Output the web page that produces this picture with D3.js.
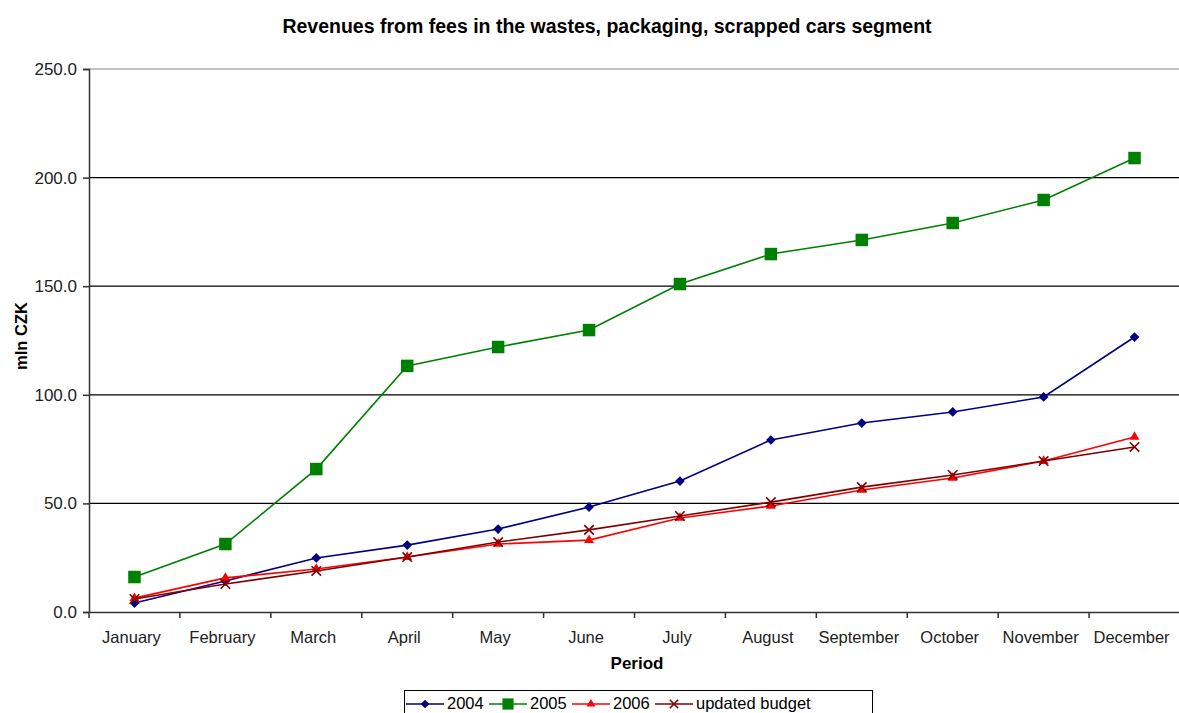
<!DOCTYPE html>
<html><head><meta charset="utf-8">
<script src="https://cdn.jsdelivr.net/npm/d3@7"></script>
<style>body{margin:0;background:#fff;} svg{display:block;font-family:"Liberation Sans",Arial,sans-serif;}</style>
</head><body><svg id="c" width="1179" height="713"></svg>
<script>
const months = ["January","February","March","April","May","June","July","August","September","October","November","December"];
const s2004 = [4.1,14.3,24.9,30.8,38.2,48.3,60.3,79.2,87.0,92.1,99.0,126.6];
const s2005 = [16.1,31.3,65.8,113.3,122.0,129.8,151.0,164.8,171.3,179.1,189.7,209.0];
const s2006 = [6.4,15.7,19.8,25.3,31.3,33.1,43.3,48.8,56.2,61.7,69.5,80.6];
const sBudget = [6.0,12.9,18.9,25.3,32.2,37.8,44.2,50.6,57.5,63.1,69.5,76.0];
const yTicks = [0,50,100,150,200,250];
const seriesNames = ["2004","2005","2006","updated budget"];

const svg = d3.select("#c");
const L = 89, R = 1180, T = 69, B = 612;
const x = d3.scaleBand().domain(months).range([L,R]).padding(0);
const y = d3.scaleLinear().domain([0,250]).range([B,T]);

// gridlines
svg.append("g").selectAll("line").data(yTicks.filter(d=>d>0)).join("line")
  .attr("x1",L).attr("x2",R).attr("y1",d=>y(d)).attr("y2",d=>y(d))
  .attr("stroke",d=>d===250?"#888":"#000").attr("stroke-width",1.2);

// y axis
const ya = svg.append("g").attr("transform",`translate(${L},0)`)
  .call(d3.axisLeft(y).tickValues(yTicks).tickFormat(d3.format(".1f")).tickSize(6).tickPadding(6));
ya.select(".domain").attr("stroke","#333").attr("stroke-width",1.5);
ya.selectAll(".tick line").attr("stroke","#333").attr("stroke-width",1.5);
ya.selectAll("text").attr("font-size",17).attr("fill","#222").attr("font-family","Liberation Sans, Arial, sans-serif");

// x axis
const xa = svg.append("g").attr("transform",`translate(0,${B})`)
  .call(d3.axisBottom(x).tickSize(0).tickPadding(19));
xa.select(".domain").attr("stroke","#333").attr("stroke-width",1.5);
xa.selectAll("text").attr("font-size",16.5).attr("fill","#222").attr("font-family","Liberation Sans, Arial, sans-serif").attr("dx",-3);
// band boundary ticks
svg.append("g").selectAll("line").data(months).join("line")
  .attr("x1",d=>x(d)).attr("x2",d=>x(d)).attr("y1",B).attr("y2",B+6)
  .attr("stroke","#333").attr("stroke-width",1.5);

const cx = d=>x(d)+x.bandwidth()/2;
const series = [
  {name:seriesNames[0], data:s2004, color:"#000080", marker:"diamond"},
  {name:seriesNames[1], data:s2005, color:"#008000", marker:"square"},
  {name:seriesNames[2], data:s2006, color:"#ff0000", marker:"triangle"},
  {name:seriesNames[3], data:sBudget, color:"#800000", marker:"x"}
];
const line = d3.line().x((d,i)=>cx(months[i])).y(d=>y(d));

function drawMarker(g, type, color, px, py, scale=1){
  if(type==="diamond"){
    g.append("path").attr("d",d3.symbol(d3.symbolDiamond2, 60*scale)()).attr("transform",`translate(${px},${py})`).attr("fill",color);
  } else if(type==="square"){
    const s=12.5*Math.sqrt(scale);
    g.append("rect").attr("x",px-s/2).attr("y",py-s/2).attr("width",s).attr("height",s).attr("fill",color);
  } else if(type==="triangle"){
    g.append("path").attr("d",d3.symbol(d3.symbolTriangle2, 70*scale)()).attr("transform",`translate(${px},${py})`).attr("fill",color);
  } else {
    g.append("path").attr("d",d3.symbol(d3.symbolX, 60*scale)()).attr("transform",`translate(${px},${py})`).attr("fill","none").attr("stroke",color).attr("stroke-width",1.6);
  }
}

series.forEach(s=>{
  const g = svg.append("g");
  g.append("path").datum(s.data).attr("d",line).attr("fill","none").attr("stroke",s.color).attr("stroke-width",1.6);
  s.data.forEach((v,i)=>drawMarker(g,s.marker,s.color,cx(months[i]),y(v)));
});

// title
svg.append("text").attr("x",607).attr("y",33).attr("text-anchor","middle")
  .attr("font-size",19.5).attr("font-weight","bold").attr("fill","#000")
  .text("Revenues from fees in the wastes, packaging, scrapped cars segment");
// y label
svg.append("text").attr("transform","translate(27,336) rotate(-90)").attr("text-anchor","middle")
  .attr("font-size",16.5).attr("font-weight","bold").text("mln CZK");
// x label
svg.append("text").attr("x",637).attr("y",669).attr("text-anchor","middle")
  .attr("font-size",17).attr("font-weight","bold").text("Period");

// legend
const lg = svg.append("g");
lg.append("rect").attr("x",404.5).attr("y",690.5).attr("width",468).attr("height",30).attr("fill","#fff").attr("stroke","#000").attr("stroke-width",1);
const legPos = [406, 489, 572, 655];
series.forEach((s,i)=>{
  const x0 = legPos[i];
  lg.append("line").attr("x1",x0).attr("x2",x0+38).attr("y1",704).attr("y2",704).attr("stroke",s.color).attr("stroke-width",1.6);
  drawMarker(lg,s.marker,s.color,x0+19,704,0.8);
  lg.append("text").attr("x",x0+41).attr("y",709).attr("font-size",16.5).attr("fill","#000").text(s.name);
});
</script></body></html>
